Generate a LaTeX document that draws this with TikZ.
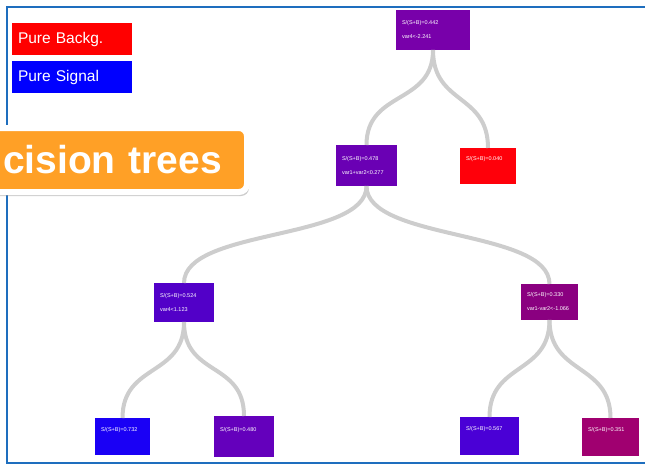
\documentclass[tikz,border=0pt]{standalone}
\usepackage{fontspec}
\setmainfont{Liberation Sans}
\usetikzlibrary{shadows}

\definecolor{framecol}{RGB}{30,110,190}
\definecolor{branchcol}{RGB}{205,205,205}
\definecolor{bannercol}{RGB}{255,160,38}
\definecolor{bkgred}{RGB}{255,0,0}
\definecolor{sigblue}{RGB}{0,0,255}
\definecolor{rootcol}{RGB}{120,0,170}
\definecolor{lcol}{RGB}{106,0,180}
\definecolor{rcol}{RGB}{255,0,10}
\definecolor{llcol}{RGB}{82,0,200}
\definecolor{lrcol}{RGB}{138,0,128}
\definecolor{lllcol}{RGB}{26,0,245}
\definecolor{llrcol}{RGB}{100,0,188}
\definecolor{lrlcol}{RGB}{74,0,214}
\definecolor{lrrcol}{RGB}{160,0,112}

\begin{document}
\begin{tikzpicture}[x=1pt, y=-1pt,
		tbox/.style={rectangle, text=white, font=\fontsize{5.5}{14}\selectfont, align=left, inner xsep=6pt, inner ysep=0pt, outer sep=0pt},
		legend/.style={rectangle, text=white, font=\fontsize{15.5}{18}\selectfont, align=left, minimum width=120pt, minimum height=32pt, text width=108pt, inner xsep=6pt, inner ysep=0pt},
		banner/.style={rectangle, fill=bannercol, draw=white, line width=6pt, rounded corners=8pt, drop shadow={shadow xshift=2pt, shadow yshift=-4pt, opacity=0.4}, text=white, font=\fontsize{39}{39}\selectfont\bfseries, text width=260pt, align=right, inner xsep=25pt, inner ysep=0pt, minimum height=64pt, outer sep=0pt},
		branch/.style={draw=branchcol, line width=4pt}]
		\useasboundingbox ( 0, 0 ) rectangle ( 645, 466 );

		% рамка
		\draw [framecol, line width=2pt] ( 645, 7 ) -- ( 7, 7 ) -- ( 7, 463 ) -- ( 645, 463 );

		% легенда
		\node (bkg) [legend, fill=bkgred] at ( 72, 39 ) {Pure Backg.};
		\node (sig) [legend, fill=sigblue] at ( 72, 77 ) {Pure Signal};

		% заголовок
		\node (banner) [banner, anchor=east] at ( 247, 160 ) {cision trees};

		% уровень 0
		\node (root) [tbox, fill=rootcol, minimum width=74pt, minimum height=40pt, text width=62pt] at ( 433, 30 ) {S/(S+B)=0.442\\var4<-2.241};

		% уровень 1
		\node (l) [tbox, fill=lcol, minimum width=61pt, minimum height=41pt, text width=49pt] at ( 366.5, 165.5 ) {S/(S+B)=0.478\\var1+var2<0.277};
		\node (r) [tbox, fill=rcol, minimum width=56pt, minimum height=36pt, text width=44pt] at ( 488, 166 ) {S/(S+B)=0.040\\\mbox{}};

		% уровень 2
		\node (ll) [tbox, fill=llcol, minimum width=60pt, minimum height=39pt, text width=48pt] at ( 184, 302.5 ) {S/(S+B)=0.524\\var4<1.123};
		\node (lr) [tbox, fill=lrcol, minimum width=57pt, minimum height=36pt, text width=45pt] at ( 549.5, 302 ) {S/(S+B)=0.330\\var1-var2<-1.066};

		% уровень 3
		\node (lll) [tbox, fill=lllcol, minimum width=55pt, minimum height=37pt, text width=43pt] at ( 122.5, 436.5 ) {S/(S+B)=0.732\\\mbox{}};
		\node (llr) [tbox, fill=llrcol, minimum width=60pt, minimum height=41pt, text width=48pt] at ( 244, 436.5 ) {S/(S+B)=0.480\\\mbox{}};
		\node (lrl) [tbox, fill=lrlcol, minimum width=59pt, minimum height=38pt, text width=47pt] at ( 489.5, 436 ) {S/(S+B)=0.567\\\mbox{}};
		\node (lrr) [tbox, fill=lrrcol, minimum width=57pt, minimum height=38pt, text width=45pt] at ( 610.5, 437 ) {S/(S+B)=0.351\\\mbox{}};

		% ветви
		\draw [branch] (root.south) .. controls +( 0, 55 ) and +( 0, -55 ) .. (l.north);
		\draw [branch] (root.south) .. controls +( 0, 55 ) and +( 0, -55 ) .. (r.north);
		\draw [branch] (l.south) .. controls +( 0, 55 ) and +( 0, -55 ) .. (ll.north);
		\draw [branch] (l.south) .. controls +( 0, 55 ) and +( 0, -55 ) .. (lr.north);
		\draw [branch] (ll.south) .. controls +( 0, 55 ) and +( 0, -55 ) .. (lll.north);
		\draw [branch] (ll.south) .. controls +( 0, 55 ) and +( 0, -55 ) .. (llr.north);
		\draw [branch] (lr.south) .. controls +( 0, 55 ) and +( 0, -55 ) .. (lrl.north);
		\draw [branch] (lr.south) .. controls +( 0, 55 ) and +( 0, -55 ) .. (lrr.north);
	\end{tikzpicture}
\end{document}
